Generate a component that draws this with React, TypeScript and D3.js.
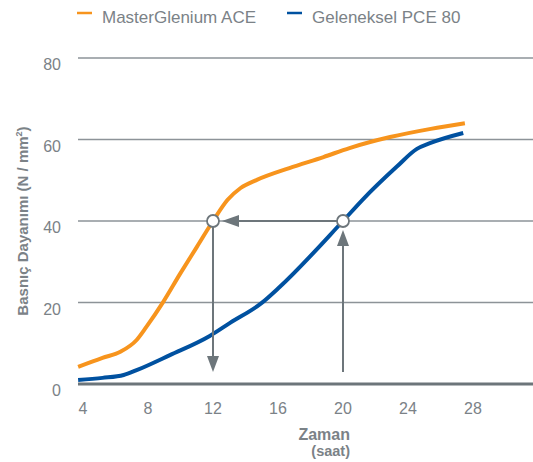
import React, { useEffect, useRef } from 'react';
import * as d3 from 'd3';

// series (x = hours, y = N/mm²)
const aceHours = [3.7, 5.2, 6.3, 7.3, 7.9, 8.9, 10.0, 11.0, 12.0, 12.9, 13.7, 14.7, 16.7, 18.8, 20.4, 22.9, 25.4, 27.5];
const aceValues = [4.2, 6.4, 7.9, 10.8, 14.0, 19.9, 27.2, 33.6, 40.0, 45.2, 48.1, 50.1, 53.0, 55.7, 57.9, 60.6, 62.6, 64.0];
const pceHours = [3.7, 5.2, 6.5, 7.3, 9.35, 11.8, 13.05, 15.0, 16.1, 20.0, 21.2, 23.3, 24.55, 25.35, 27.4];
const pceValues = [1.0, 1.5, 2.2, 3.4, 7.1, 11.8, 15.0, 19.9, 23.8, 40.0, 45.2, 53.3, 57.7, 59.1, 61.6];

const xTicks = [4, 8, 12, 16, 20, 24, 28];
const yTicks = [0, 20, 40, 60, 80];
const seriesNames = ['MasterGlenium ACE', 'Geleneksel PCE 80'];

const colors = {
  ace: '#f7941d',
  pce: '#0051a0',
  grid: '#8d9398',
  axis: '#6c757a',
  text: '#7b8287',
  arrow: '#6d767b',
};

const font = '"Liberation Sans", Arial, sans-serif';

export default function App() {
  const svgRef = useRef<SVGSVGElement>(null);

  useEffect(() => {
    const svg = d3.select(svgRef.current);
    svg.selectAll('*').remove();

    const x = d3.scaleLinear().domain([4, 28]).range([83, 473]);
    const y = d3.scaleLinear().domain([0, 80]).range([384, 58]);
    const left = 78;
    const right = 533;

    // grid lines
    svg.append('g')
      .selectAll('line')
      .data(yTicks.filter((t) => t > 0))
      .join('line')
      .attr('x1', left)
      .attr('x2', right)
      .attr('y1', (d) => y(d))
      .attr('y2', (d) => y(d))
      .attr('stroke', colors.grid)
      .attr('stroke-width', 1.5);

    // y tick labels (sit just below their grid line)
    svg.append('g')
      .selectAll('text')
      .data(yTicks)
      .join('text')
      .attr('x', 61)
      .attr('y', (d) => y(d) + 12)
      .attr('text-anchor', 'end')
      .attr('fill', colors.text)
      .attr('font-size', 16)
      .attr('font-family', font)
      .text((d) => d);

    // x tick labels
    svg.append('g')
      .selectAll('text')
      .data(xTicks)
      .join('text')
      .attr('x', (d) => x(d))
      .attr('y', 414)
      .attr('text-anchor', 'middle')
      .attr('fill', colors.text)
      .attr('font-size', 16)
      .attr('font-family', font)
      .text((d) => d);

    // series
    const line = d3.line<[number, number]>()
      .x((d) => x(d[0]))
      .y((d) => y(d[1]))
      .curve(d3.curveMonotoneX);

    const acePts = aceHours.map((h, i) => [h, aceValues[i]] as [number, number]);
    const pcePts = pceHours.map((h, i) => [h, pceValues[i]] as [number, number]);

    svg.append('path')
      .datum(pcePts)
      .attr('d', line)
      .attr('fill', 'none')
      .attr('stroke', colors.pce)
      .attr('stroke-width', 4);

    svg.append('path')
      .datum(acePts)
      .attr('d', line)
      .attr('fill', 'none')
      .attr('stroke', colors.ace)
      .attr('stroke-width', 4);

    // zero axis line
    svg.append('line')
      .attr('x1', left)
      .attr('x2', right)
      .attr('y1', y(0))
      .attr('y2', y(0))
      .attr('stroke', colors.axis)
      .attr('stroke-width', 3);

    // arrows
    const arrows = svg.append('g').attr('fill', colors.arrow).attr('stroke', colors.arrow);
    const ay = y(40);
    const bottom = 372;
    // down at 12h
    arrows.append('line')
      .attr('x1', x(12)).attr('x2', x(12))
      .attr('y1', ay + 6).attr('y2', bottom - 12)
      .attr('stroke-width', 2);
    arrows.append('path')
      .attr('stroke', 'none')
      .attr('d', `M${x(12) - 6},${bottom - 16}L${x(12) + 6},${bottom - 16}L${x(12)},${bottom}Z`);
    // up at 20h
    arrows.append('line')
      .attr('x1', x(20)).attr('x2', x(20))
      .attr('y1', bottom).attr('y2', ay + 18)
      .attr('stroke-width', 2);
    arrows.append('path')
      .attr('stroke', 'none')
      .attr('d', `M${x(20) - 6},${ay + 25}L${x(20) + 6},${ay + 25}L${x(20)},${ay + 9}Z`);
    // left from 20h to 12h
    arrows.append('line')
      .attr('x1', x(20) - 6).attr('x2', x(12) + 20)
      .attr('y1', ay).attr('y2', ay)
      .attr('stroke-width', 2);
    arrows.append('path')
      .attr('stroke', 'none')
      .attr('d', `M${x(12) + 26},${ay - 6}L${x(12) + 26},${ay + 6}L${x(12) + 9},${ay}Z`);

    // circles
    svg.append('g')
      .selectAll('circle')
      .data([12, 20])
      .join('circle')
      .attr('cx', (d) => x(d))
      .attr('cy', ay)
      .attr('r', 6)
      .attr('fill', '#ffffff')
      .attr('stroke', colors.arrow)
      .attr('stroke-width', 1.8);

    // axis titles
    svg.append('text')
      .attr('transform', `translate(28,221) rotate(-90)`)
      .attr('text-anchor', 'middle')
      .attr('fill', colors.text)
      .attr('font-size', 15)
      .attr('font-weight', 'bold')
      .attr('font-family', font)
      .call((t) => {
        t.append('tspan').text('Basnıç Dayanımı (N / mm');
        t.append('tspan').attr('font-size', 9).attr('dy', -6).text('2');
        t.append('tspan').attr('dy', 6).text(')');
      });

    svg.append('text')
      .attr('x', 350)
      .attr('y', 440)
      .attr('text-anchor', 'end')
      .attr('fill', colors.text)
      .attr('font-size', 16)
      .attr('font-weight', 'bold')
      .attr('font-family', font)
      .text('Zaman');
    svg.append('text')
      .attr('x', 350)
      .attr('y', 456)
      .attr('text-anchor', 'end')
      .attr('fill', colors.text)
      .attr('font-size', 14.5)
      .attr('font-weight', 'bold')
      .attr('font-family', font)
      .text('(saat)');

    // legend
    const legendX = [77, 287];
    const legendColors = [colors.ace, colors.pce];
    const lg = svg.append('g');
    seriesNames.forEach((name, i) => {
      lg.append('line')
        .attr('x1', legendX[i]).attr('x2', legendX[i] + 15)
        .attr('y1', 13).attr('y2', 13)
        .attr('stroke', legendColors[i])
        .attr('stroke-width', 2.5);
      lg.append('text')
        .attr('x', legendX[i] + 25)
        .attr('y', 22.5)
        .attr('fill', colors.text)
        .attr('font-size', 17)
        .attr('font-family', font)
        .text(name);
    });
  }, []);

  return (
    <svg
      ref={svgRef}
      width={533}
      height={462}
      style={{ position: 'absolute', left: 0, top: 0, background: '#fff' }}
    />
  );
}
